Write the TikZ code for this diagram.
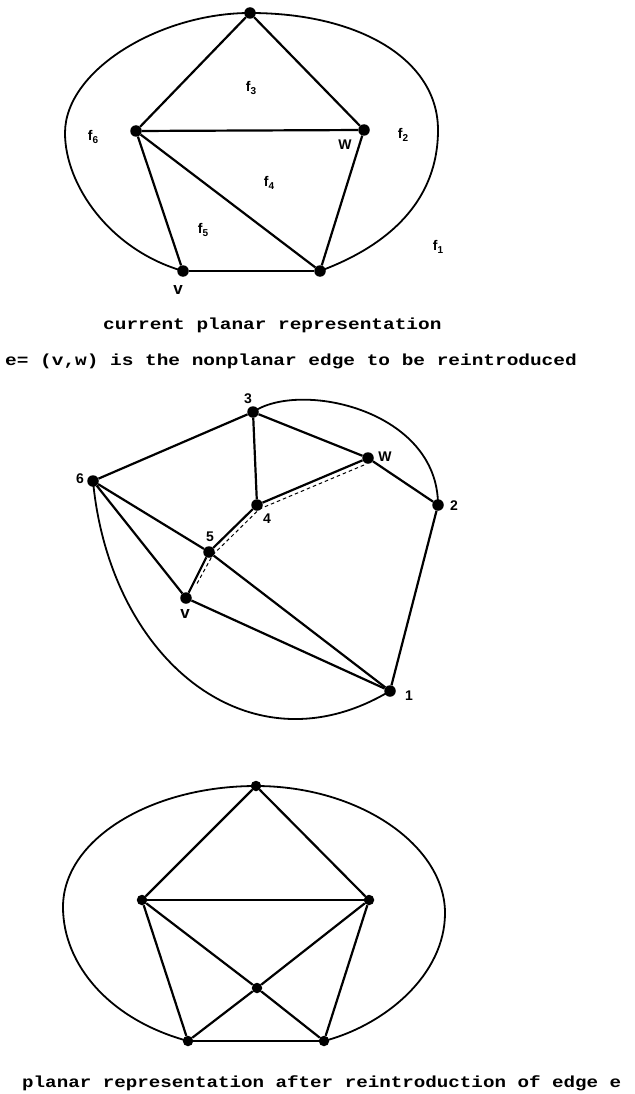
\documentclass[tikz,border=0pt]{standalone}
\usepackage{fontspec}
\setmainfont{Liberation Sans}
\newfontfamily\capfont{Liberation Mono}
\usetikzlibrary{calc}
\newcommand{\fsub}[1]{f\raisebox{-0.4ex}{\fontsize{10}{10}\selectfont #1}}
\begin{document}
\begin{tikzpicture}[x=1pt,y=-1pt,
  dot/.style={circle,fill=black,inner sep=0pt,minimum size=11.5pt},
  sdot/.style={circle,fill=black,inner sep=0pt,minimum size=10.5pt},
  edge/.style={line width=2.2pt},
  outer/.style={line width=1.8pt},
  lab/.style={font=\bfseries\fontsize{14}{14}\selectfont,inner sep=0pt},
  vlab/.style={font=\bfseries\fontsize{17}{17}\selectfont,inner sep=0pt},
  captext/.style={font=\capfont\bfseries\fontsize{16}{16}\selectfont,inner sep=0pt,anchor=base west},
  dashpath/.style={line width=1pt,dash pattern=on 3.5pt off 3pt}]
\useasboundingbox (0,0) rectangle (634,1094);

% ---------- top graph ----------
\node[dot] (a1) at (250,13) {};
\node[dot] (a2) at (136,131) {};
\node[dot] (a3) at (364,130) {};
\node[dot] (a4) at (183,271) {};
\node[dot] (a5) at (320,271) {};
\coordinate (aL) at (65,133);
\coordinate (aR) at (438,130);
\draw[edge] (a1) -- (a2);
\draw[edge] (a1) -- (a3);
\draw[edge] (a2) -- (a3);
\draw[edge] (a2) -- (a4);
\draw[edge] (a2) -- (a5);
\draw[edge] (a3) -- (a5);
\draw[edge] (a4) -- (a5);
\draw[outer] (a4.center) .. controls (110,250) and (65,185) .. (aL)
  .. controls (65,70) and (160,13) .. (a1.center)
  .. controls (360,13) and (438,60) .. (aR)
  .. controls (438,200) and (390,245) .. (a5.center);
\node[lab] (f3) at (251,88) {\fsub{3}};
\node[lab] (f6) at (93,137) {\fsub{6}};
\node[lab] (f2) at (403,135) {\fsub{2}};
\node[lab] (f4) at (269,183) {\fsub{4}};
\node[lab] (f5) at (203,230) {\fsub{5}};
\node[lab] (f1) at (438,247) {\fsub{1}};
\node[lab] (wl) at (345,145) {W};
\node[vlab] (vl) at (178,290) {v};

% ---------- captions ----------
\node[captext] (c1t) at (103,329) {\scalebox{1.215}[1]{current planar representation}};
\node[captext] (c2t) at (5,365) {\scalebox{1.215}[1]{e= (v,w) is the nonplanar edge to be reintroduced}};

% ---------- middle graph ----------
\node[dot] (b3) at (253,412) {};
\node[dot] (bw) at (368,458) {};
\node[dot] (b6) at (93,481) {};
\node[dot] (b2) at (438,505) {};
\node[dot] (b4) at (257,505) {};
\node[dot] (b5) at (209,552) {};
\node[dot] (bv) at (186,598) {};
\node[dot] (b1) at (390,691) {};
\draw[edge] (b3) -- (b6);
\draw[edge] (b3) -- (b4);
\draw[edge] (b3) -- (bw);
\draw[edge] (bw) -- (b2);
\draw[edge] (bw) -- (b4);
\draw[edge] (b4) -- (b5);
\draw[edge] (b5) -- (bv);
\draw[edge] (b6) -- (b5);
\draw[edge] (b6) -- (bv);
\draw[edge] (b5) -- (b1);
\draw[edge] (bv) -- (b1);
\draw[edge] (b2) -- (b1);
\draw[outer] (b3.center) .. controls (300,380) and (438,410) .. (b2.center);
\draw[outer] (b6.center) .. controls (110,660) and (250,775) .. (b1.center);
\coordinate (dend) at ($(b5)!0.68!(bv)$);
\draw[dashpath] ([shift={(-4,7)}]bw.center) -- ([shift={(2.5,4)}]b4.center)
  -- ([shift={(3.8,2.8)}]b5.center) -- ([shift={(3,1.5)}]dend);
\node[lab] (l3) at (248,399) {3};
\node[lab] (lw) at (385,457) {W};
\node[lab] (l6) at (80,479) {6};
\node[lab] (l2) at (454,506) {2};
\node[lab] (l4) at (267,519) {4};
\node[lab] (l5) at (210,537) {5};
\node[vlab] (lv) at (185,614) {v};
\node[lab] (l1) at (409,696) {1};

% ---------- bottom graph ----------
\node[sdot] (c1) at (256,786) {};
\node[sdot] (c2) at (142,900) {};
\node[sdot] (c3) at (369,900) {};
\node[sdot] (c4) at (257,988) {};
\node[sdot] (c5) at (188,1041) {};
\node[sdot] (c6) at (324,1041) {};
\coordinate (cL) at (63,907);
\coordinate (cR) at (445,913);
\draw[edge] (c1) -- (c2);
\draw[edge] (c1) -- (c3);
\draw[edge] (c2) -- (c3);
\draw[edge] (c2) -- (c4);
\draw[edge] (c3) -- (c4);
\draw[edge] (c2) -- (c5);
\draw[edge] (c3) -- (c6);
\draw[edge] (c4) -- (c5);
\draw[edge] (c4) -- (c6);
\draw[edge] (c5) -- (c6);
\draw[outer] (c5.center) .. controls (110,1020) and (63,965) .. (cL)
  .. controls (63,840) and (150,786) .. (c1.center)
  .. controls (360,786) and (445,846) .. (cR)
  .. controls (445,975) and (385,1025) .. (c6.center);

\node[captext] (c3t) at (22,1087) {\scalebox{1.2}[1]{planar representation after reintroduction of edge e}};
\end{tikzpicture}
\end{document}
